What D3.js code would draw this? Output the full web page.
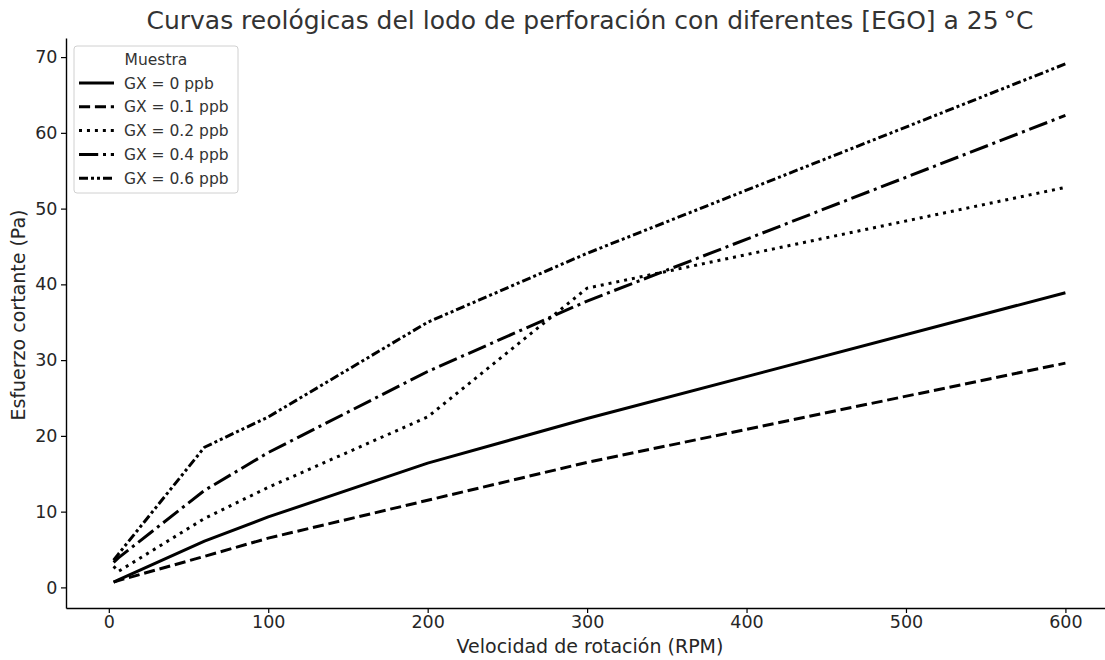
<!DOCTYPE html>
<html>
<head>
<meta charset="utf-8">
<script src="https://cdn.jsdelivr.net/npm/d3@7"></script>
<style>
  body { margin: 0; background: #fff; }
  svg { display: block; font-family: "DejaVu Sans", sans-serif; }
</style>
</head>
<body>
<div id="chart"></div>
<script>
// RPM readings and shear stress (Pa) per sample
const rpm = [3, 6, 60, 100, 200, 300, 600];
const gx0 = [0.7, 1.0, 6.1, 9.3, 16.4, 22.3, 38.9];
const gx01 = [0.7, 0.9, 4.1, 6.5, 11.5, 16.5, 29.6];
const gx02 = [2.8, 2.1, 9.1, 13.2, 22.5, 39.5, 52.8];
const gx04 = [3.3, 3.9, 12.8, 17.8, 28.5, 37.8, 62.3];
const gx06 = [3.6, 4.4, 18.5, 22.5, 35.0, 44.1, 69.1];
const seriesNames = ['GX = 0 ppb', 'GX = 0.1 ppb', 'GX = 0.2 ppb', 'GX = 0.4 ppb', 'GX = 0.6 ppb'];
const xTicks = [0, 100, 200, 300, 400, 500, 600];
const yTicks = [0, 10, 20, 30, 40, 50, 60, 70];

const width = 1105, height = 660;
const margin = { top: 38, right: -8, bottom: 52, left: 66 };
const lw = 3;

// matplotlib-like dash patterns scaled by line width
const dashes = [
  null,
  [3.7, 1.6],
  [1, 1.65],
  [6.4, 1.6, 1, 1.6],
  [3, 1, 1, 1, 1, 1]
].map(d => d ? d.map(v => v * lw).join(',') : null);

const series = [gx0, gx01, gx02, gx04, gx06].map((vals, i) => ({
  name: seriesNames[i],
  dash: dashes[i],
  values: rpm.map((r, j) => ({ x: r, y: vals[j] }))
}));

const svg = d3.select('#chart').append('svg')
  .attr('width', width)
  .attr('height', height);

// 5% padding like matplotlib
const xMin = d3.min(rpm), xMax = d3.max(rpm);
const allY = [gx0, gx01, gx02, gx04, gx06].flat();
const yMin = d3.min(allY), yMax = d3.max(allY);
const xPad = (xMax - xMin) * 0.05, yPad = (yMax - yMin) * 0.05;

const x = d3.scaleLinear().domain([xMin - xPad, xMax + xPad]).range([margin.left, width - margin.right]);
const y = d3.scaleLinear().domain([yMin - yPad, yMax + yPad]).range([height - margin.bottom, margin.top]);

// Axes
const xAxis = svg.append('g')
  .attr('transform', `translate(0,${height - margin.bottom})`)
  .call(d3.axisBottom(x).tickValues(xTicks).tickSize(5).tickSizeOuter(0).tickPadding(3));
const yAxis = svg.append('g')
  .attr('transform', `translate(${margin.left},0)`)
  .call(d3.axisLeft(y).tickValues(yTicks).tickSize(5).tickSizeOuter(0).tickPadding(3.5));

[xAxis, yAxis].forEach(g => {
  g.select('.domain').attr('stroke', '#000').attr('stroke-width', 1.4);
  g.selectAll('.tick line').attr('stroke', '#000').attr('stroke-width', 1.2);
  g.selectAll('.tick text').attr('fill', '#262626').style('font-size', '17.5px').style('font-family', 'DejaVu Sans');
});

// Lines
const line = d3.line().x(d => x(d.x)).y(d => y(d.y));

svg.selectAll('.series')
  .data(series)
  .enter().append('path')
  .attr('class', 'series')
  .attr('d', d => line(d.values))
  .attr('fill', 'none')
  .attr('stroke', '#000')
  .attr('stroke-width', lw)
  .attr('stroke-linejoin', 'round')
  .attr('stroke-dasharray', d => d.dash);

// Title and axis labels
svg.append('text')
  .attr('x', 590).attr('y', 29)
  .attr('text-anchor', 'middle')
  .attr('fill', '#333')
  .style('font-size', '25px')
  .text('Curvas reológicas del lodo de perforación con diferentes [EGO] a 25\u2009°C');

svg.append('text')
  .attr('x', 590).attr('y', 653)
  .attr('text-anchor', 'middle')
  .attr('fill', '#262626')
  .style('font-size', '19px')
  .text('Velocidad de rotación (RPM)');

svg.append('text')
  .attr('transform', 'translate(25,315) rotate(-90)')
  .attr('text-anchor', 'middle')
  .attr('fill', '#262626')
  .style('font-size', '19px')
  .text('Esfuerzo cortante (Pa)');

// Legend
const legend = svg.append('g').attr('transform', 'translate(74,46)');
legend.append('rect')
  .attr('width', 164).attr('height', 147)
  .attr('rx', 3)
  .attr('fill', 'rgba(255,255,255,0.8)')
  .attr('stroke', '#d0d0d0');
legend.append('text')
  .attr('x', 82).attr('y', 19)
  .attr('text-anchor', 'middle')
  .attr('fill', '#333')
  .style('font-size', '15.5px')
  .text('Muestra');

const items = legend.selectAll('.item')
  .data(series)
  .enter().append('g')
  .attr('class', 'item')
  .attr('transform', (d, i) => `translate(0,${37 + i * 23.8})`);
items.append('line')
  .attr('x1', 5).attr('x2', 40)
  .attr('stroke', '#000')
  .attr('stroke-width', lw)
  .attr('stroke-dasharray', d => d.dash);
items.append('text')
  .attr('x', 50).attr('y', 5.5)
  .attr('fill', '#333')
  .style('font-size', '15.5px')
  .text(d => d.name);
</script>
</body>
</html>
